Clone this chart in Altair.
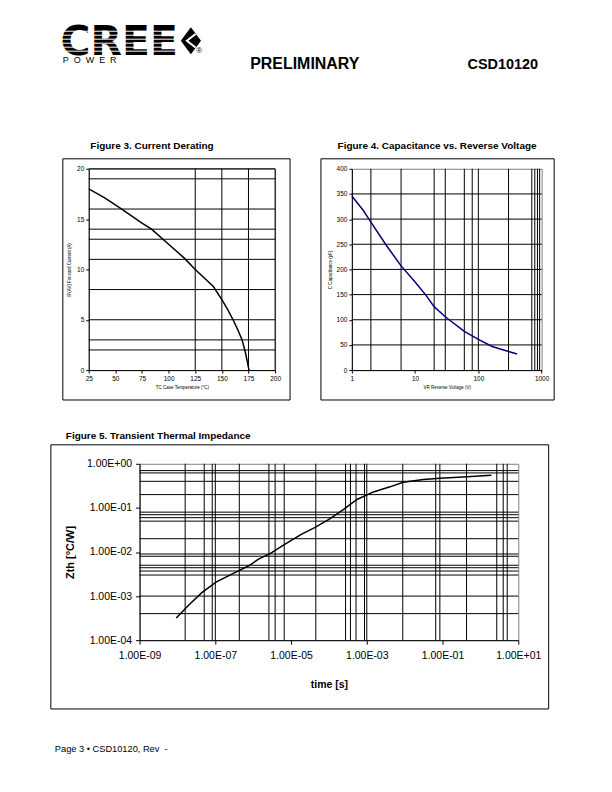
import altair as alt
import pandas as pd

# ---------------- Figure 3: current derating ----------------
f3_temp = [25, 40, 56, 75, 84, 100, 115, 125, 142, 150, 155, 161, 165, 169, 172, 174, 175.5]
f3_curr = [18.0, 17.1, 16.0, 14.6, 14.0, 12.5, 11.1, 10.0, 8.3, 7.0, 6.1, 4.9, 4.0, 3.0, 1.8, 0.8, 0.0]
f3_xticks = [25, 50, 75, 100, 125, 150, 175, 200]
f3_yticks = [0, 5, 10, 15, 20]
f3_vgrid = [125, 150, 175, 200]
f3_hgrid = [20, 19, 16, 14, 13, 11, 8, 5, 3, 2]

# ---------------- Figure 4: capacitance vs reverse voltage ----------------
f4_volt = [1, 1.5, 2, 3.5, 6, 10, 15, 20, 30, 60, 100, 165, 300, 410]
f4_cap = [346, 318, 294, 248, 207, 175, 148, 126, 106, 77, 61, 47, 37, 32]
f4_xticks = [1, 10, 100, 1000]
f4_yticks = [0, 50, 100, 150, 200, 250, 300, 350, 400]
f4_vgrid = [2, 6, 20, 30, 60, 80, 100, 300, 700, 780, 860, 930]
f4_hgrid = [50, 100, 150, 200, 250, 300, 350]

# ---------------- Figure 5: transient thermal impedance ----------------
f5_time = [9.3e-9, 2.0e-8, 4.4e-8, 1.07e-7, 3.3e-7, 8.1e-7, 1.35e-6, 3.0e-6, 6.8e-6,
           1.86e-5, 4.2e-5, 1.05e-4, 2.45e-4, 5.5e-4, 1.5e-3, 4.1e-3, 9.1e-3,
           3.1e-2, 8.5e-2, 0.35, 1.95]
f5_zth = [3.2e-4, 6.3e-4, 1.2e-3, 2.1e-3, 3.4e-3, 5.0e-3, 6.8e-3, 9.5e-3, 1.48e-2,
          2.5e-2, 3.55e-2, 5.6e-2, 9.3e-2, 0.155, 0.23, 0.30, 0.38,
          0.44, 0.47, 0.50, 0.55]
f5_xticks = [1e-9, 1e-7, 1e-5, 1e-3, 1e-1, 1e1]
f5_yticks = [1e-4, 1e-3, 1e-2, 1e-1, 1]
f5_vgrid = [1.6e-8, 5.1e-8, 8.3e-8, 1e-7, 4.3e-7, 2.6e-6, 3.8e-6, 6.6e-6, 4.5e-5,
            2.75e-4, 3.7e-4, 5.2e-4, 8.7e-4, 1e-3, 8.9e-3, 6.6e-2, 8.5e-2, 0.43,
            2.7, 4.0, 5.1]
f5_hgrid = [0.7, 0.62, 0.4, 0.2, 0.08, 0.07, 0.06, 0.05, 0.02, 0.009, 0.008,
            0.005, 0.0044, 0.0037, 0.003, 0.001, 0.0004]

FONT = "Liberation Sans"
one = pd.DataFrame({"k": [0]})


def txt(text, x, y, size, weight="normal", align="left", baseline="alphabetic", font=FONT):
    return alt.Chart(one).mark_text(
        text=text, fontSize=size, fontWeight=weight, align=align,
        baseline=baseline, color="black", font=font
    ).encode(x=alt.value(x), y=alt.value(y))


def box(x1, y1, x2, y2):
    return alt.Chart(one).mark_rect(fillOpacity=0, stroke="black", strokeWidth=1).encode(
        x=alt.value(x1), x2=alt.value(x2), y=alt.value(y1), y2=alt.value(y2))


def frame(x1, y1, x2, y2):
    # invisible rectangle that fixes the extent of a page strip
    return alt.Chart(one).mark_rect(opacity=0).encode(
        x=alt.value(x1), x2=alt.value(x2), y=alt.value(y1), y2=alt.value(y2))


def grid(vals, channel, scale, axis, width=1):
    d = pd.DataFrame({"g": vals})
    if channel == "x":
        enc = alt.X("g:Q", scale=scale, axis=axis)
    else:
        enc = alt.Y("g:Q", scale=scale, axis=axis)
    return alt.Chart(d).mark_rule(color="black", strokeWidth=width).encode(**{channel: enc})


axc = dict(domainColor="black", tickColor="black", labelColor="black", titleColor="black",
           grid=False, labelFont=FONT, titleFont=FONT, labelFlush=False, labelOverlap=False)
GRAY = "#808080"

# ---------- Figure 3 ----------
W3, H3 = 187, 202
xs3 = alt.Scale(domain=[25, 200], nice=False, zero=False)
ys3 = alt.Scale(domain=[0, 20], nice=False)
ax3x = alt.Axis(values=f3_xticks, title="TC Case Temperature (°C)", labelFontSize=6.5,
                titleFontSize=4.5, titleFontWeight="normal", tickSize=3, labelPadding=2,
                titlePadding=3, **axc)
ax3y = alt.Axis(values=f3_yticks, title="IF(AV) Forward Current (A)", labelFontSize=6.5,
                titleFontSize=4.5, titleFontWeight="normal", tickSize=3, labelPadding=2,
                titlePadding=5, **axc)
d3 = pd.DataFrame({"g": f3_temp, "i": f3_curr})
curve3 = alt.Chart(d3).mark_line(color="black", strokeWidth=1.5).encode(
    x=alt.X("g:Q", scale=xs3, axis=ax3x),
    y=alt.Y("i:Q", scale=ys3, axis=ax3y),
)
fig3 = alt.layer(
    frame(-80, -55.5, 516, 250),
    grid(f3_vgrid, "x", xs3, ax3x), grid(f3_hgrid, "y", ys3, ax3y), curve3,
    box(-26, -10, 202, 232),
    txt("Figure 3. Current Derating", 63.5, -23, 10, "bold", "center", "middle"),
).properties(width=W3, height=H3, view=alt.ViewBackground(stroke=GRAY, strokeWidth=1))

# ---------- Figure 4 ----------
W4, H4 = 190.4, 202
xs4 = alt.Scale(type="log", domain=[1, 1000], nice=False)
ys4 = alt.Scale(domain=[0, 400], nice=False)
ax4x = alt.Axis(values=f4_xticks, title="VR Reverse Voltage (V)", format="d", labelFontSize=6.5,
                titleFontSize=4.5, titleFontWeight="normal", tickSize=3, labelPadding=2,
                titlePadding=3, **axc)
ax4y = alt.Axis(values=f4_yticks, title="C Capacitance (pF)", labelFontSize=6.5,
                titleFontSize=4.5, titleFontWeight="normal", tickSize=3, labelPadding=2,
                titlePadding=4, **axc)
d4 = pd.DataFrame({"g": f4_volt, "c": f4_cap})
curve4 = alt.Chart(d4).mark_line(color="#000080", strokeWidth=1.5).encode(
    x=alt.X("g:Q", scale=xs4, axis=ax4x),
    y=alt.Y("c:Q", scale=ys4, axis=ax4y),
)
fig4 = alt.layer(
    grid(f4_vgrid, "x", xs4, ax4x), grid(f4_hgrid, "y", ys4, ax4y), curve4,
    box(-31, -10, 203, 232),
    txt("Figure 4. Capacitance vs. Reverse Voltage", 85.5, -23, 10, "bold", "center", "middle"),
).properties(width=W4, height=H4, view=alt.ViewBackground(stroke=GRAY, strokeWidth=1))

# ---------- Figure 5 ----------
W5, H5 = 380, 177
xs5 = alt.Scale(type="log", domain=[1e-9, 10], nice=False)
ys5 = alt.Scale(type="log", domain=[1e-4, 1], nice=False)
sci = ("'1.00E' + (datum.value < 1 ? '-' : '+') + "
       "(abs(round(log(datum.value)/LN10)) < 10 ? '0' : '') + abs(round(log(datum.value)/LN10))")
ax5x = alt.Axis(values=f5_xticks, title="time [s]", labelExpr=sci, labelFontSize=10.5,
                titleFontSize=10.5, titleFontWeight="bold", tickSize=4, labelPadding=6,
                titlePadding=19, **axc)
ax5y = alt.Axis(values=f5_yticks, title="Zth [°C/W]", labelExpr=sci, labelFontSize=10.5,
                titleFontSize=11, titleFontWeight="bold", tickSize=4, labelPadding=4,
                titlePadding=11, **axc)
d5 = pd.DataFrame({"g": f5_time, "z": f5_zth})
curve5 = alt.Chart(d5).mark_line(color="black", strokeWidth=1.5).encode(
    x=alt.X("g:Q", scale=xs5, axis=ax5x),
    y=alt.Y("z:Q", scale=ys5, axis=ax5y),
)
fig5 = alt.layer(
    frame(-131, -44, 465, 261),
    grid(f5_vgrid, "x", xs5, ax5x), grid(f5_hgrid, "y", ys5, ax5y), curve5,
    box(-89, -19, 410.5, 246),
    txt("Figure 5. Transient Thermal Impedance", -74, -28, 10, "bold", "left", "middle"),
).properties(width=W5, height=H5, view=alt.ViewBackground(stroke=GRAY, strokeWidth=1))

spacer = alt.Chart(one).mark_point(opacity=0).encode(
    x=alt.value(0), y=alt.value(0)).properties(width=1, height=H5)

# ---------- header ----------
header_layers = [
    frame(-80, -9, 516, 93),
    txt("CREE", -28.2, 35.7, 41, "bold", font="DejaVu Sans"),
]
for yy in [12, 16, 20, 24, 28, 32]:
    header_layers.append(
        alt.Chart(one).mark_rule(color="white", strokeWidth=1).encode(
            x=alt.value(-30), x2=alt.value(95), y=alt.value(yy)))
header_layers += [
    alt.Chart(one).mark_point(shape="M0,-1L0.75,0L0,1L-0.75,0Z", filled=True, color="black",
                              opacity=1, size=729).encode(x=alt.value(102.5), y=alt.value(21.5)),
    alt.Chart(one).mark_point(shape="M0.35,-0.5L-0.3,0L0.35,0.5", filled=False, color="white",
                              strokeWidth=2, opacity=1, size=729).encode(x=alt.value(102.5), y=alt.value(21.5)),
    txt("®", 108, 34, 8),
    txt("P\u00a0\u00a0O\u00a0\u00a0W\u00a0\u00a0E\u00a0\u00a0R", -26, 44, 9),
    txt("PRELIMINARY", 162, 49.5, 16, "bold"),
    txt("CSD10120", 380, 49.5, 14.5, "bold"),
]
header = alt.layer(*header_layers).properties(width=440, height=60)

footer = alt.layer(
    frame(-80, -9, 516, 50),
    txt("Page 3 \u2022 CSD10120, Rev\u00a0\u00a0-", -34, 17, 9.3),
).properties(width=440, height=20)

row34 = alt.hconcat(fig3, fig4, spacing=77, bounds="flush")
row5 = alt.hconcat(spacer, fig5, spacing=50, bounds="flush")

chart = alt.vconcat(header, row34, row5, footer, spacing=0).properties(
    padding=0
).configure(font=FONT).configure_view(stroke="transparent")

chart.save("out.html", embed_options={"renderer": "svg", "actions": False})
